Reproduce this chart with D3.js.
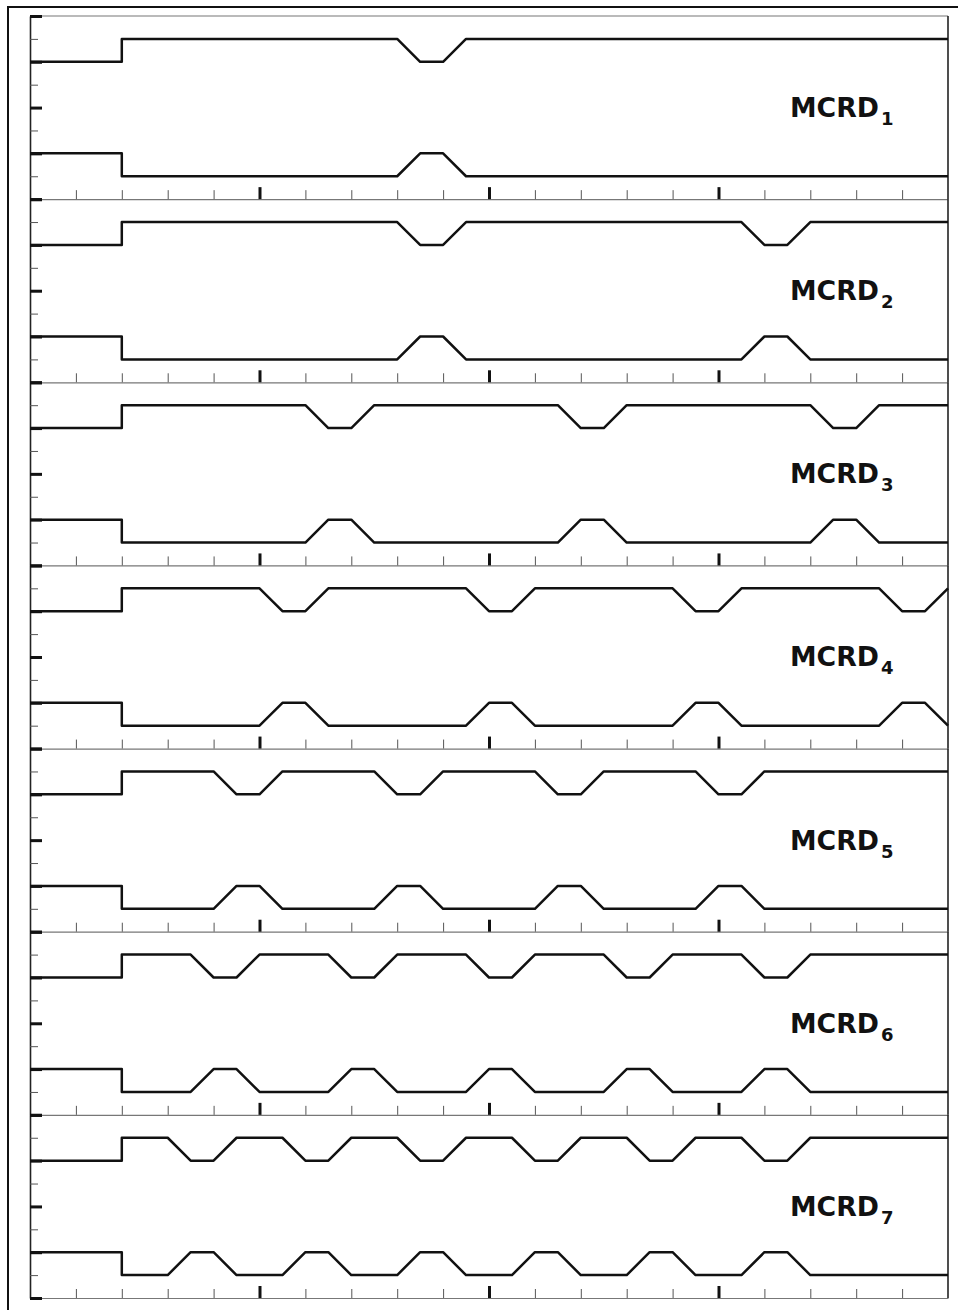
<!DOCTYPE html>
<html>
<head>
<meta charset="utf-8">
<script src="https://cdn.jsdelivr.net/npm/d3@7"></script>
<style>
body { margin: 0; background: #fff; }
</style>
</head>
<body>
<svg id="chart"></svg>
<script>
// instants des creux : debut descente, bas atteint, debut remontee, haut atteint
const mcrd1 = [8, 8.5, 9, 9.5]
const mcrd2 = [8, 8.5, 9, 9.5, 15.5, 16, 16.5, 17]
const mcrd3 = [6, 6.5, 7, 7.5, 11.5, 12, 12.5, 13, 17, 17.5, 18, 18.5]
const mcrd4 = [5, 5.5, 6, 6.5, 9.5, 10, 10.5, 11, 14, 14.5, 15, 15.5, 18.5, 19, 19.5, 20]
const mcrd5 = [4, 4.5, 5, 5.5, 7.5, 8, 8.5, 9, 11, 11.5, 12, 12.5, 14.5, 15, 15.5, 16]
const mcrd6 = [3.5, 4, 4.5, 5, 6.5, 7, 7.5, 8, 9.5, 10, 10.5, 11, 12.5, 13, 13.5, 14, 15.5, 16, 16.5, 17]
const mcrd7 = [3, 3.5, 4, 4.5, 5.5, 6, 6.5, 7, 8, 8.5, 9, 9.5, 10.5, 11, 11.5, 12, 13, 13.5, 14, 14.5, 15.5, 16, 16.5, 17]

const labels = ["1", "2", "3", "4", "5", "6", "7"]
const edgesList = [mcrd1, mcrd2, mcrd3, mcrd4, mcrd5, mcrd6, mcrd7]

// niveaux [avant saut, apres saut]
const upperLevels = [6, 7]
const lowerLevels = [2, 1]
const stepTime = 2

const xDomain = [0, 20]
const yDomain = [0, 8]
const xMajorTicks = [5, 10, 15]
const xMinorTicks = [1, 2, 3, 4, 6, 7, 8, 9, 11, 12, 13, 14, 16, 17, 18, 19]
const yMajorTicks = [0, 2, 4, 6, 8]
const yMinorTicks = [1, 3, 5, 7]

const width = 958
const height = 1310
const plotLeft = 30, plotRight = 948, plotTop = 16, plotBottom = 1298
const panelH = (plotBottom - plotTop) / edgesList.length

const svg = d3.select("#chart")
    .attr("width", width)
    .attr("height", height)

// cadre exterieur
svg.append("rect")
    .attr("x", 8).attr("y", 7)
    .attr("width", 980).attr("height", 1340)
    .attr("fill", "none")
    .attr("stroke", "#111")
    .attr("stroke-width", 2)

const x = d3.scaleLinear().domain(xDomain).range([plotLeft, plotRight])

function buildSignal(edges, levels) {
    const pts = [[xDomain[0], levels[0]], [stepTime, levels[0]], [stepTime, levels[1]]]
    for (let i = 0; i < edges.length; i += 4) {
        pts.push([edges[i], levels[1]])
        pts.push([edges[i + 1], levels[0]])
        pts.push([edges[i + 2], levels[0]])
        pts.push([edges[i + 3], levels[1]])
    }
    pts.push([xDomain[1], levels[1]])
    return pts
}

edgesList.forEach(function (edges, i) {
    const top = plotTop + i * panelH
    const y = d3.scaleLinear().domain(yDomain).range([top + panelH, top])
    const g = svg.append("g")

    // bas du panneau (axe x) avec ticks vers le haut
    g.append("g")
        .attr("transform", `translate(0,${top + panelH})`)
        .call(d3.axisBottom(x).tickValues(xMinorTicks).tickSize(-9).tickSizeOuter(0).tickFormat(""))
        .call(a => a.select(".domain").attr("stroke", "#777").attr("stroke-width", 1.2))
        .call(a => a.selectAll(".tick line").attr("stroke", "#555").attr("stroke-width", 1))
    g.append("g")
        .attr("transform", `translate(0,${top + panelH})`)
        .call(d3.axisBottom(x).tickValues(xMajorTicks).tickSize(-12).tickSizeOuter(0).tickFormat(""))
        .call(a => a.select(".domain").remove())
        .call(a => a.selectAll(".tick line").attr("stroke", "#111").attr("stroke-width", 3))

    // haut du panneau
    if (i === 0) {
        g.append("line")
            .attr("x1", x(xDomain[0])).attr("x2", x(xDomain[1]))
            .attr("y1", y(yDomain[1])).attr("y2", y(yDomain[1]))
            .attr("stroke", "#777").attr("stroke-width", 1.2)
    }

    // axe y a gauche, ticks vers l'interieur
    g.append("g")
        .attr("transform", `translate(${plotLeft},0)`)
        .call(d3.axisLeft(y).tickValues(yMinorTicks).tickSize(-8).tickSizeOuter(0).tickFormat(""))
        .call(a => a.select(".domain").attr("stroke", "#222").attr("stroke-width", 1.6))
        .call(a => a.selectAll(".tick line").attr("stroke", "#555").attr("stroke-width", 1))
    g.append("g")
        .attr("transform", `translate(${plotLeft},0)`)
        .call(d3.axisLeft(y).tickValues(yMajorTicks).tickSize(-12).tickSizeOuter(0).tickFormat(""))
        .call(a => a.select(".domain").remove())
        .call(a => a.selectAll(".tick line").attr("stroke", "#111").attr("stroke-width", 3))

    // bord droit
    g.append("line")
        .attr("x1", x(xDomain[1])).attr("x2", x(xDomain[1]))
        .attr("y1", y(yDomain[0])).attr("y2", y(yDomain[1]))
        .attr("stroke", "#222").attr("stroke-width", 1.6)

    const line = d3.line().x(d => x(d[0])).y(d => y(d[1]))

    g.selectAll("path.signal")
        .data([buildSignal(edges, upperLevels), buildSignal(edges, lowerLevels)])
        .join("path")
        .attr("class", "signal")
        .attr("d", line)
        .attr("fill", "none")
        .attr("stroke", "#111")
        .attr("stroke-width", 2.5)
        .attr("stroke-linejoin", "round")

    // etiquette
    g.append("text")
        .attr("x", 790)
        .attr("y", top + 101)
        .attr("textLength", 89)
        .attr("lengthAdjust", "spacingAndGlyphs")
        .style("font-family", "'DejaVu Sans', sans-serif")
        .style("font-weight", "bold")
        .style("font-size", "27px")
        .attr("fill", "#111")
        .text("MCRD")
    g.append("text")
        .attr("x", 881)
        .attr("y", top + 109)
        .style("font-family", "'DejaVu Sans', sans-serif")
        .style("font-weight", "bold")
        .style("font-size", "18px")
        .attr("fill", "#111")
        .text(labels[i])
})
</script>
</body>
</html>
